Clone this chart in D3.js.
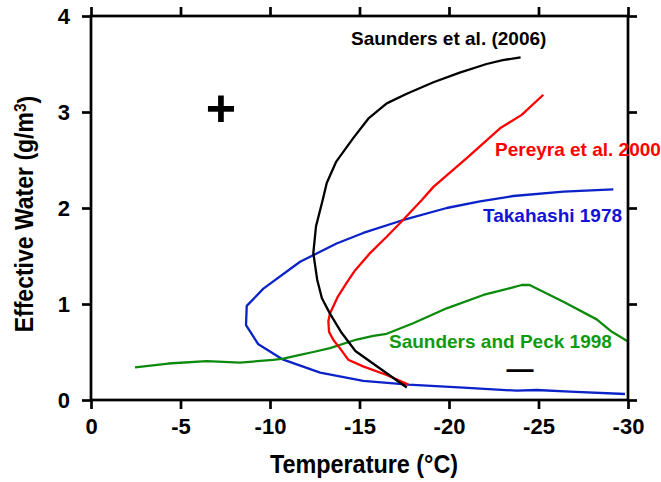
<!DOCTYPE html>
<html>
<head>
<meta charset="utf-8">
<script src="https://cdn.jsdelivr.net/npm/d3@7"></script>
<style>
  html, body { margin: 0; padding: 0; background: #fff; }
  svg { display: block; }
  text { font-family: "Liberation Sans", Arial, Helvetica, sans-serif; font-weight: bold; }
</style>
</head>
<body>
<svg id="chart" width="661" height="482"></svg>
<script>
// Effective water vs temperature: charge-reversal curves from four studies

const xTicks = [0, -5, -10, -15, -20, -25, -30];
const yTicks = [0, 1, 2, 3, 4];

// Saunders et al. (2006)
const saunders2006Temp  = [-17.64, -14.77, -14.0, -13.35, -12.9, -12.64, -12.42, -12.57, -12.94, -13.17, -13.69, -14.66, -15.49, -16.52, -17.64, -19.13, -20.6, -22.1, -23.0, -24.0];
const saunders2006Water = [0.13, 0.51, 0.70, 0.90, 1.06, 1.25, 1.53, 1.81, 2.08, 2.26, 2.48, 2.73, 2.93, 3.09, 3.19, 3.31, 3.41, 3.50, 3.54, 3.57];

// Pereyra et al. 2000
const pereyraTemp  = [-17.73, -16.52, -15.2, -14.37, -13.9, -13.54, -13.3, -13.26, -13.35, -13.8, -14.28, -14.75, -15.59, -16.52, -17.35, -18.47, -19.13, -20.99, -22.85, -24.06, -25.27];
const pereyraWater = [0.16, 0.26, 0.35, 0.42, 0.54, 0.625, 0.71, 0.82, 0.90, 1.08, 1.22, 1.35, 1.53, 1.70, 1.86, 2.08, 2.22, 2.52, 2.83, 2.97, 3.18];

// Takahashi 1978
const takahashiTemp  = [-29.18, -26.4, -23.6, -21.73, -19.87, -17.36, -15.21, -13.72, -11.68, -9.63, -8.7, -8.66, -9.35, -10.74, -12.8, -15.21, -17.73, -20.8, -23.78, -24.9, -26.76, -29.83];
const takahashiWater = [2.195, 2.17, 2.125, 2.07, 2.0, 1.87, 1.74, 1.63, 1.44, 1.16, 0.98, 0.78, 0.58, 0.42, 0.285, 0.20, 0.16, 0.128, 0.097, 0.104, 0.087, 0.0625];

// Saunders and Peck 1998
const saundersPeckTemp  = [-2.46, -4.32, -6.46, -8.32, -10.18, -10.74, -11.68, -12.42, -13.35, -14.84, -15.77, -16.52, -18.0, -19.87, -21.92, -23.03, -24.06, -24.5, -26.39, -28.25, -29.1, -30.0];
const saundersPeckWater = [0.34, 0.38, 0.406, 0.39, 0.417, 0.43, 0.47, 0.50, 0.54, 0.63, 0.667, 0.69, 0.80, 0.955, 1.094, 1.146, 1.198, 1.198, 1.024, 0.84, 0.71, 0.61];

const series = [
  { temp: takahashiTemp,    water: takahashiWater,    color: "#0a22c8" },
  { temp: saundersPeckTemp, water: saundersPeckWater, color: "#0b8a0b" },
  { temp: pereyraTemp,      water: pereyraWater,      color: "#ff0000" },
  { temp: saunders2006Temp, water: saunders2006Water, color: "#000000" }
];

const svg = d3.select("#chart");
const plotLeft = 91, plotRight = 628, plotTop = 16, plotBottom = 400;

const x = d3.scaleLinear().domain([0, -30]).range([plotLeft, plotRight]);
const y = d3.scaleLinear().domain([0, 4]).range([plotBottom, plotTop]);

// curves
const line = d3.line().x(d => x(d[0])).y(d => y(d[1]));
series.forEach(s => {
  svg.append("path")
    .datum(s.temp.map((t, i) => [t, s.water[i]]))
    .attr("d", line)
    .attr("fill", "none")
    .attr("stroke", s.color)
    .attr("stroke-width", 2.3)
    .attr("stroke-linejoin", "round");
});

// frame
svg.append("rect")
  .attr("x", plotLeft).attr("y", plotTop)
  .attr("width", plotRight - plotLeft).attr("height", plotBottom - plotTop)
  .attr("fill", "none").attr("stroke", "#000").attr("stroke-width", 2.7);

function styleAxis(g) {
  g.select(".domain").remove();
  g.selectAll(".tick line").attr("stroke", "#000").attr("stroke-width", 2.7);
  g.selectAll(".tick text").attr("fill", "#000").style("font-size", "22px")
    .style("font-family", '"Liberation Sans", Arial, sans-serif').style("font-weight", "bold");
}

const tickFmt = d => String(d);

svg.append("g").attr("transform", `translate(0,${plotBottom})`)
  .call(d3.axisBottom(x).tickValues(xTicks).tickFormat(tickFmt).tickSize(9).tickPadding(9))
  .call(styleAxis);
svg.append("g").attr("transform", `translate(0,${plotTop})`)
  .call(d3.axisTop(x).tickValues(xTicks).tickFormat("").tickSize(9))
  .call(styleAxis);
svg.append("g").attr("transform", `translate(${plotLeft},0)`)
  .call(d3.axisLeft(y).tickValues(yTicks).tickFormat(tickFmt).tickSize(9).tickPadding(12))
  .call(styleAxis);
svg.append("g").attr("transform", `translate(${plotRight},0)`)
  .call(d3.axisRight(y).tickValues(yTicks).tickFormat("").tickSize(9))
  .call(styleAxis);

// axis titles
svg.append("text")
  .attr("transform", "translate(364,473) scale(0.9,1)")
  .attr("text-anchor", "middle")
  .style("font-size", "26px")
  .text("Temperature (°C)");

const yTitle = svg.append("text")
  .attr("transform", "translate(33,214) rotate(-90) scale(0.92,1)")
  .attr("text-anchor", "middle")
  .style("font-size", "25px");
yTitle.append("tspan").text("Effective Water (g/m");
yTitle.append("tspan").attr("dy", "-0.4em").style("font-size", "17px").text("3");
yTitle.append("tspan").attr("dy", "0.4em").text(")");

// curve labels
svg.append("text").attr("x", 351).attr("y", 45).attr("fill", "#000")
  .style("font-size", "19px").text("Saunders et al. (2006)");
svg.append("text").attr("x", 495).attr("y", 156).attr("fill", "#ff0000")
  .style("font-size", "19px").text("Pereyra et al. 2000");
svg.append("text").attr("x", 483).attr("y", 222).attr("fill", "#1212d8")
  .style("font-size", "19px").text("Takahashi 1978");
svg.append("text").attr("x", 389).attr("y", 348).attr("fill", "#109a10")
  .style("font-size", "19px").text("Saunders and Peck 1998");

// charge sign markers
svg.append("text").attr("x", 221).attr("y", 108).attr("text-anchor", "middle")
  .attr("dy", "0.35em").style("font-size", "52px").text("+");
svg.append("text").attr("x", 520).attr("y", 369).attr("text-anchor", "middle")
  .attr("dy", "0.32em").style("font-size", "27px").text("—");
</script>
</body>
</html>
